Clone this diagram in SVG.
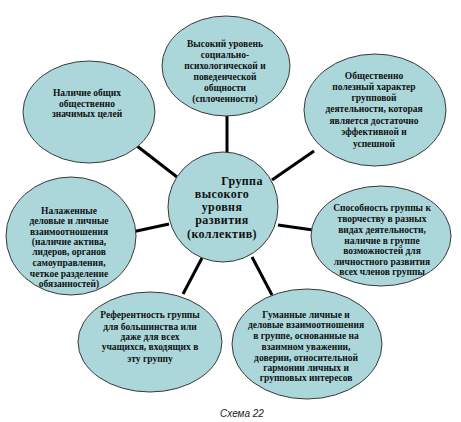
<svg xmlns="http://www.w3.org/2000/svg" width="461" height="422" viewBox="0 0 461 422">
<style>
.n{fill:#abd7db;stroke:#3a3a3a;stroke-width:1}
.t{font-family:"Liberation Serif","Times New Roman",serif;font-weight:bold;font-size:9.5px;fill:#111;text-anchor:middle}
.c{font-family:"Liberation Serif","Times New Roman",serif;font-weight:bold;font-size:12px;letter-spacing:0.4px;fill:#111;text-anchor:middle}
.e line{stroke:#000;stroke-width:3}
.cap{font-family:"Liberation Sans",Arial,sans-serif;font-style:italic;font-size:10px;fill:#222;text-anchor:middle}
</style>
<rect width="461" height="422" fill="#fff"/>
<g class="e" id="connectors">
<line x1="227" y1="112" x2="227" y2="153"/>
<line x1="272" y1="180" x2="314" y2="151"/>
<line x1="137" y1="146" x2="177" y2="177"/>
<line x1="132" y1="232" x2="169" y2="224"/>
<line x1="278" y1="225" x2="313" y2="230"/>
<line x1="202" y1="258" x2="183" y2="294"/>
<line x1="252" y1="257" x2="272" y2="295"/>
</g>
<g id="n-top">
<ellipse class="n" cx="226" cy="66" rx="64" ry="50"/>
<text class="t"><tspan x="225" y="47">Высокий уровень</tspan><tspan x="225" y="58">социально-</tspan><tspan x="225" y="69">психологической и</tspan><tspan x="225" y="80">поведенческой</tspan><tspan x="225" y="91">общности</tspan><tspan x="225" y="102">(сплоченности)</tspan></text>
</g>
<g id="n-topright">
<ellipse class="n" cx="375" cy="110" rx="71" ry="56"/>
<text class="t"><tspan x="374" y="79">Общественно</tspan><tspan x="374" y="90">полезный характер</tspan><tspan x="374" y="101">групповой</tspan><tspan x="374" y="112">деятельности, которая</tspan><tspan x="374" y="124">является достаточно</tspan><tspan x="374" y="135">эффективной и</tspan><tspan x="374" y="147">успешной</tspan></text>
</g>
<g id="n-topleft">
<ellipse class="n" cx="89" cy="112" rx="66" ry="51"/>
<text class="t"><tspan x="87" y="96">Наличие общих</tspan><tspan x="87" y="107">общественно</tspan><tspan x="87" y="117">значимых целей</tspan></text>
</g>
<g id="n-center">
<ellipse class="n" cx="223" cy="207" rx="55" ry="55"/>
<text class="c"><tspan x="242" y="185">Группа</tspan><tspan x="222" y="198">высокого</tspan><tspan x="222" y="211">уровня</tspan><tspan x="222" y="224">развития</tspan><tspan x="222" y="238">(коллектив)</tspan></text>
</g>
<g id="n-left">
<ellipse class="n" cx="71" cy="236" rx="65" ry="59"/>
<text class="t"><tspan x="69" y="214">Налаженные</tspan><tspan x="69" y="224">деловые и личные</tspan><tspan x="69" y="235">взаимоотношения</tspan><tspan x="69" y="245">(наличие актива,</tspan><tspan x="69" y="255">лидеров, органов</tspan><tspan x="69" y="266">самоуправления,</tspan><tspan x="69" y="277">четкое разделение</tspan><tspan x="69" y="287">обязанностей)</tspan></text>
</g>
<g id="n-right">
<ellipse class="n" cx="381" cy="236" rx="70" ry="50"/>
<text class="t"><tspan x="382" y="211">Способность группы к</tspan><tspan x="382" y="222">творчеству в разных</tspan><tspan x="382" y="233">видах деятельности,</tspan><tspan x="382" y="244">наличие в группе</tspan><tspan x="382" y="254">возможностей для</tspan><tspan x="382" y="265">личностного развития</tspan><tspan x="382" y="275">всех членов группы</tspan></text>
</g>
<g id="n-bottomleft">
<ellipse class="n" cx="150" cy="342" rx="72" ry="50"/>
<text class="t"><tspan x="150" y="318">Референтность группы</tspan><tspan x="150" y="330">для большинства или</tspan><tspan x="150" y="340">даже для всех</tspan><tspan x="150" y="350">учащихся, входящих в</tspan><tspan x="150" y="362">эту группу</tspan></text>
</g>
<g id="n-bottomright">
<ellipse class="n" cx="307" cy="344" rx="75" ry="55"/>
<text class="t"><tspan x="306" y="318">Гуманные личные и</tspan><tspan x="306" y="328">деловые взаимоотношения</tspan><tspan x="306" y="339">в группе, основанные на</tspan><tspan x="306" y="350">взаимном уважении,</tspan><tspan x="306" y="361">доверии, относительной</tspan><tspan x="306" y="371">гармонии личных и</tspan><tspan x="306" y="381">групповых интересов</tspan></text>
</g>
<text class="cap" x="242" y="417">Схема 22</text>
</svg>
